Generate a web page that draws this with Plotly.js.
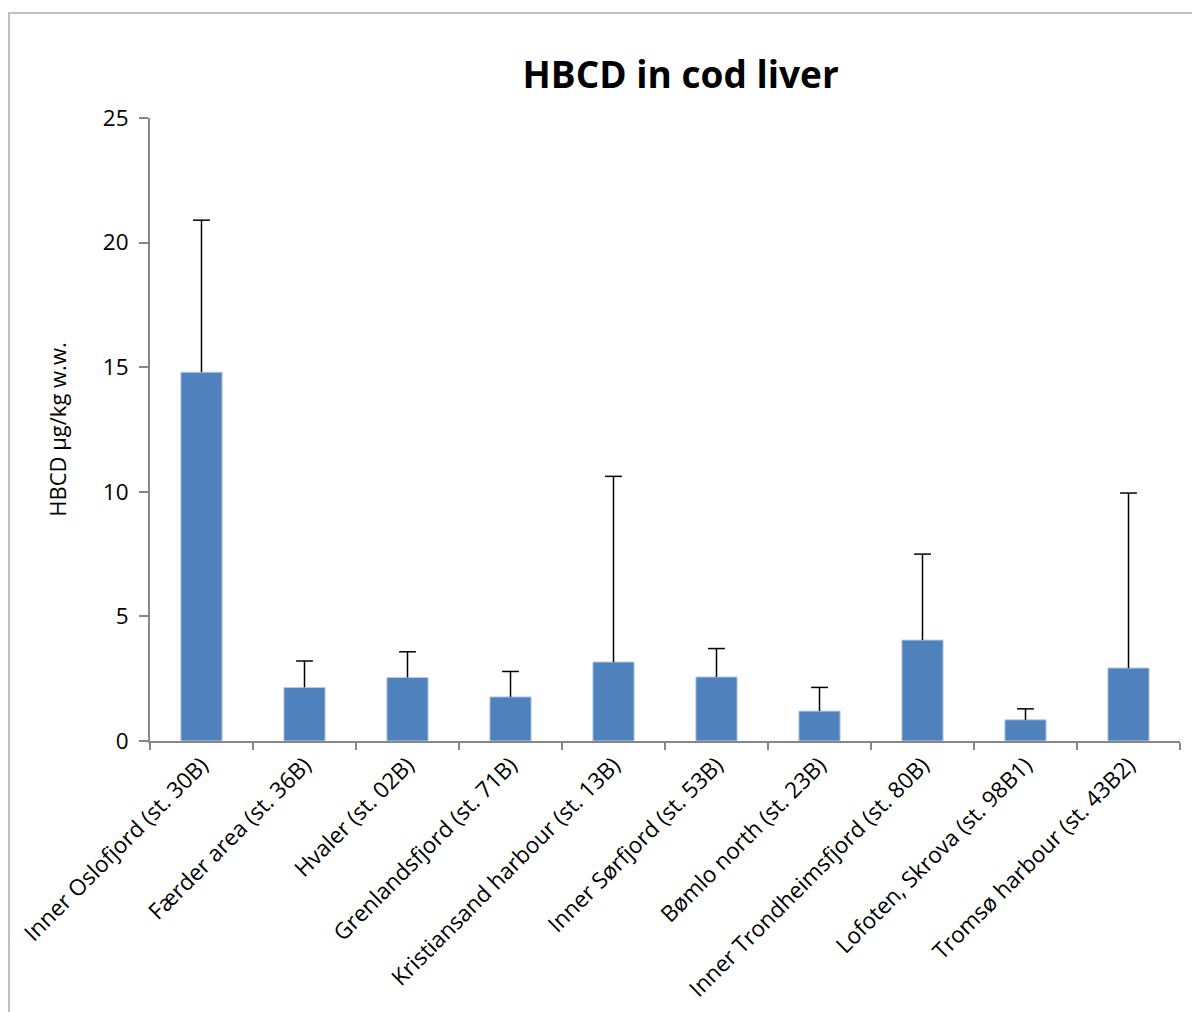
<!DOCTYPE html>
<html>
<head>
<meta charset="utf-8">
<script src="https://cdn.plot.ly/plotly-3.0.1.min.js"></script>
<style>
html,body{margin:0;padding:0;overflow:hidden;background:#fff;}
#frame{position:absolute;left:8px;top:12px;width:1300px;height:1100px;border-left:2px solid #c0c0c0;border-top:2px solid #c0c0c0;pointer-events:none;z-index:5;}
#chart{position:absolute;left:0;top:0;width:1192px;height:1012px;}
</style>
</head>
<body>
<div id="chart"></div>
<div id="frame"></div>
<script>
const stations = [
  "Inner Oslofjord (st. 30B)",
  "Færder area (st. 36B)",
  "Hvaler (st. 02B)",
  "Grenlandsfjord (st. 71B)",
  "Kristiansand harbour (st. 13B)",
  "Inner Sørfjord (st. 53B)",
  "Bømlo north (st. 23B)",
  "Inner Trondheimsfjord (st. 80B)",
  "Lofoten, Skrova (st. 98B1)",
  "Tromsø harbour (st. 43B2)"
];
const hbcdMean = [14.8, 2.15, 2.55, 1.77, 3.17, 2.57, 1.2, 4.05, 0.85, 2.93];
const hbcdUpperErr = [6.1, 1.06, 1.03, 1.02, 7.45, 1.14, 0.95, 3.45, 0.44, 7.02];
const yTicks = [0, 5, 10, 15, 20, 25];

const FONT = '"Open Sans", "Noto Sans", sans-serif';

const bars = {
  type: 'bar',
  x: stations,
  y: hbcdMean,
  marker: {color: '#4F81BD', line: {color: '#B9CDE5', width: 1}},
  hoverinfo: 'x+y'
};

// upper error bars: line down to the bar top, cap only at the top
const errTops = hbcdMean.map((v, i) => v + hbcdUpperErr[i]);
const errs = {
  type: 'scatter',
  mode: 'markers',
  x: stations,
  y: errTops,
  marker: {symbol: 'line-ew-open', size: 12, color: '#000', line: {color: '#000', width: 1.5}},
  error_y: {type: 'data', symmetric: false, array: hbcdUpperErr.map(() => 0), arrayminus: hbcdUpperErr,
            color: '#000', thickness: 1.5, width: 0},
  hoverinfo: 'skip',
  cliponaxis: false
};

const layout = {
  width: 1192, height: 1012,
  margin: {l: 150, r: 12, t: 118, b: 271},
  paper_bgcolor: '#ffffff', plot_bgcolor: '#ffffff',
  font: {family: FONT, color: '#000000', size: 22},
  title: {text: '<b>HBCD in cod liver</b>', xref: 'container', x: 0.571, xanchor: 'center',
          yref: 'container', y: 1 - 75/1012, yanchor: 'middle',
          font: {size: 37, family: FONT, color: '#000'}},
  bargap: 0.6,
  showlegend: false,
  xaxis: {
    type: 'category',
    range: [-0.5, stations.length - 0.5],
    autorange: false,
    tickangle: -45,
    ticks: 'outside', tickson: 'boundaries', ticklen: 7, tickcolor: '#878787', tickwidth: 2,
    showline: true, linecolor: '#878787', linewidth: 2,
    showgrid: false, zeroline: false,
    tickfont: {size: 22.5, family: FONT}
  },
  yaxis: {
    range: [0, 25],
    autorange: false,
    tickvals: yTicks,
    ticktext: yTicks.map(String),
    ticks: 'outside', ticklen: 9, tickcolor: '#878787', tickwidth: 2,
    ticklabelstandoff: 6,
    showline: true, linecolor: '#878787', linewidth: 2,
    showgrid: false, zeroline: false,
    tickfont: {size: 22.5, family: FONT},
    title: {text: 'HBCD µg/kg w.w.', font: {size: 22, family: FONT}, standoff: 30}
  }
};

Plotly.newPlot('chart', [bars, errs], layout, {displayModeBar: false, staticPlot: true});
</script>
</body>
</html>
